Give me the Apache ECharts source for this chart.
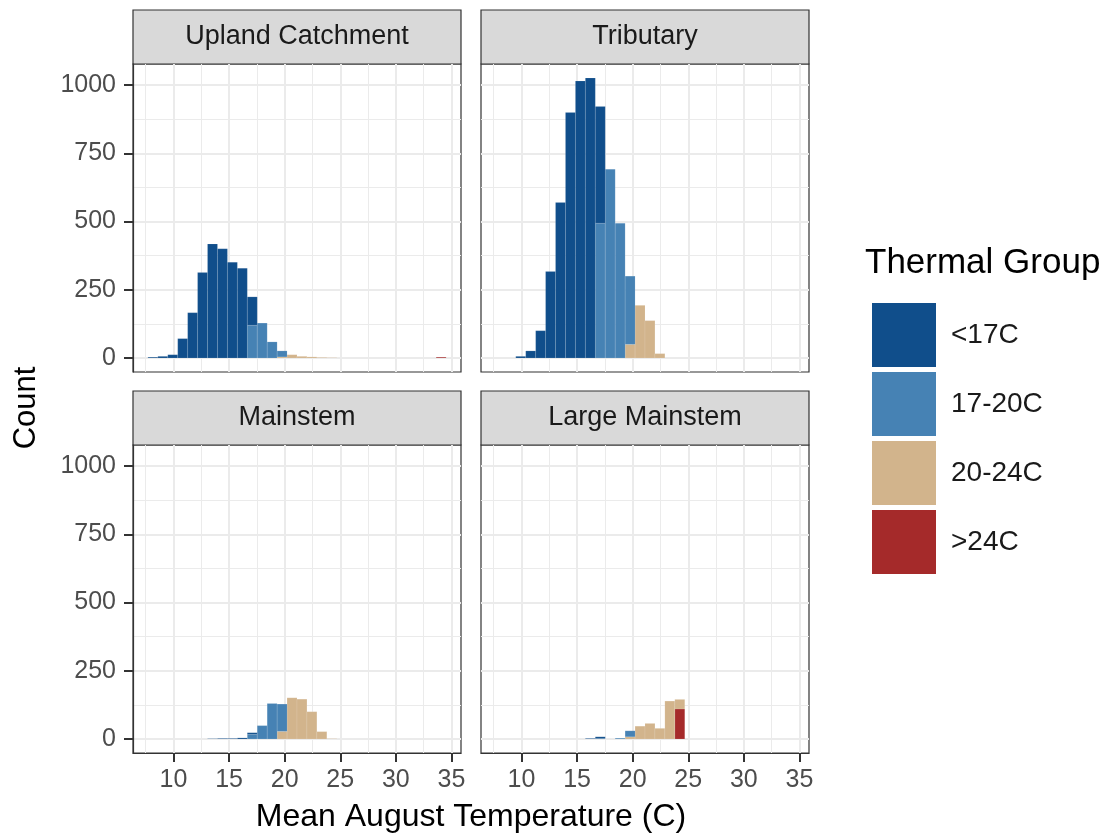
<!DOCTYPE html>
<html>
<head>
<meta charset="utf-8">
<script src="https://cdn.jsdelivr.net/npm/echarts@6/dist/echarts.min.js"></script>
<style>
html,body{margin:0;padding:0;background:#fff}
#chart{width:1110px;height:839px}
</style>
</head>
<body>
<div id="chart"></div>
<script>
// histogram bins (30 bins, shared by all facets)
var binStart = 7.7;
var binWidth = 0.894;

var groups = ['<17C', '17-20C', '20-24C', '>24C'];
var groupColors = ['#104E8B', '#4682B4', '#D2B48C', '#A52A2A'];
var facets = ['Upland Catchment', 'Tributary', 'Mainstem', 'Large Mainstem'];

var xTicks = [10, 15, 20, 25, 30, 35];
var xMinor = [7.5, 12.5, 17.5, 22.5, 27.5, 32.5];
var yTicks = [0, 250, 500, 750, 1000];
var yMinor = [125, 375, 625, 875];

// counts per bin
var uplandCold = [3,6,12,71,166,313,418,400,351,329,104,0,0,0,0,0,0,0,0,0,0,0,0,0,0,0,0,0,0,0];
var uplandCool = [0,0,0,0,0,0,0,0,0,0,120,128,59,22,0,0,0,0,0,0,0,0,0,0,0,0,0,0,0,0];
var uplandWarm = [0,0,0,0,0,0,0,0,0,0,0,0,0,4,12,6,4,2,1,0,0,0,0,0,0,0,0,0,0,0];
var uplandHot  = [0,0,0,0,0,0,0,0,0,0,0,0,0,0,0,0,0,0,0,0,0,0,0,0,0,0,0,0,0,3];

var tribCold = [0,0,6,26,100,317,570,900,1015,1026,428,0,0,0,0,0,0,0,0,0,0,0,0,0,0,0,0,0,0,0];
var tribCool = [0,0,0,0,0,0,0,0,0,0,494,692,494,250,0,0,0,0,0,0,0,0,0,0,0,0,0,0,0,0];
var tribWarm = [0,0,0,0,0,0,0,0,0,0,0,0,0,50,193,137,16,0,0,0,0,0,0,0,0,0,0,0,0,0];
var tribHot  = [0,0,0,0,0,0,0,0,0,0,0,0,0,0,0,0,0,0,0,0,0,0,0,0,0,0,0,0,0,0];

var mainCold = [0,0,0,0,0,0,1,2,2,4,6,0,0,0,0,0,0,0,0,0,0,0,0,0,0,0,0,0,0,0];
var mainCool = [0,0,0,0,0,0,0,0,0,0,17,49,130,100,0,0,0,0,0,0,0,0,0,0,0,0,0,0,0,0];
var mainWarm = [0,0,0,0,0,0,0,0,0,0,0,0,0,28,151,146,100,27,1,0,0,0,0,0,0,0,0,0,0,0];
var mainHot  = [0,0,0,0,0,0,0,0,0,0,0,0,0,0,0,0,0,0,0,0,0,0,0,0,0,0,0,0,0,0];

var largeCold = [0,0,0,0,0,0,0,0,0,2,6,0,0,0,0,0,0,0,0,0,0,0,0,0,0,0,0,0,0,0];
var largeCool = [0,0,0,0,0,0,0,0,0,0,2,0,3,22,0,0,0,0,0,0,0,0,0,0,0,0,0,0,0,0];
var largeWarm = [0,0,0,0,0,0,0,0,0,0,0,0,0,8,47,57,39,139,35,0,0,0,0,0,0,0,0,0,0,0];
var largeHot  = [0,0,0,0,0,0,0,0,0,0,0,0,0,0,0,0,0,0,110,0,0,0,0,0,0,0,0,0,0,0];

// per facet, in legend order (<17C ... >24C)
var facetCounts = [
	[uplandCold, uplandCool, uplandWarm, uplandHot],
	[tribCold, tribCool, tribWarm, tribHot],
	[mainCold, mainCool, mainWarm, mainHot],
	[largeCold, largeCool, largeWarm, largeHot]
];

var font = '"Liberation Sans", Arial, sans-serif';
var xMin = 6.36, xMax = 35.86;
var yMin = -51.3, yMax = 1077.3;

// panel boxes
var panels = [
	{left: 133, top: 64, width: 328, height: 308},
	{left: 481, top: 64, width: 328, height: 308},
	{left: 133, top: 445, width: 328, height: 308},
	{left: 481, top: 445, width: 328, height: 308}
];
var stripH = 54;

function renderBar(params, api) {
	var lo = api.coord([api.value(0), api.value(2)]);
	var hi = api.coord([api.value(1), api.value(3)]);
	return {
		type: 'rect',
		shape: {x: lo[0], y: hi[1], width: hi[0] - lo[0], height: lo[1] - hi[1]},
		style: {fill: api.visual('color'), stroke: 'rgba(255,255,255,0.18)', lineWidth: 0.6}
	};
}

function plainNum(v) {
	return String(v);
}

var grids = [], xAxes = [], yAxes = [], series = [], graphics = [];

panels.forEach(function(p, i) {
	var showX = i >= 2;
	var showY = i % 2 === 0;
	grids.push({
		left: p.left, top: p.top, width: p.width, height: p.height,
		show: true, backgroundColor: '#fff', borderColor: '#333333', borderWidth: 1.2
	});
	// major axes
	xAxes.push({
		type: 'value', gridIndex: i, min: xMin, max: xMax,
		axisLine: {show: showX, onZero: false, lineStyle: {color: '#333333', width: 1.2}},
		axisTick: {show: showX, customValues: xTicks, length: 9, lineStyle: {color: '#333333', width: 2}},
		axisLabel: {show: showX, customValues: xTicks, formatter: plainNum, margin: 15, fontSize: 25, color: '#4D4D4D', fontFamily: font},
		splitLine: {show: true, lineStyle: {color: '#EBEBEB', width: 2}}
	});
	// minor grid
	xAxes.push({
		type: 'value', gridIndex: i, min: xMin, max: xMax, position: 'bottom',
		axisLine: {show: false, onZero: false},
		axisTick: {show: false, customValues: xMinor},
		axisLabel: {show: false},
		splitLine: {show: true, lineStyle: {color: '#EBEBEB', width: 1}}
	});
	yAxes.push({
		type: 'value', gridIndex: i, min: yMin, max: yMax,
		axisLine: {show: showY, onZero: false, lineStyle: {color: '#333333', width: 1.2}},
		axisTick: {show: showY, customValues: yTicks, length: 9, lineStyle: {color: '#333333', width: 2}},
		axisLabel: {show: showY, customValues: yTicks, formatter: plainNum, margin: 17, fontSize: 25, color: '#4D4D4D', fontFamily: font},
		splitLine: {show: true, lineStyle: {color: '#EBEBEB', width: 2}}
	});
	yAxes.push({
		type: 'value', gridIndex: i, min: yMin, max: yMax, position: 'left',
		axisLine: {show: false, onZero: false},
		axisTick: {show: false, customValues: yMinor},
		axisLabel: {show: false},
		splitLine: {show: true, lineStyle: {color: '#EBEBEB', width: 1}}
	});

	// stacked histogram, >24C at the bottom
	var base = facetCounts[i][0].map(function() { return 0; });
	for (var g = groups.length - 1; g >= 0; g--) {
		var counts = facetCounts[i][g];
		var data = [];
		for (var k = 0; k < counts.length; k++) {
			if (counts[k] > 0) {
				var x0 = binStart + k * binWidth;
				data.push([x0, x0 + binWidth, base[k], base[k] + counts[k]]);
				base[k] += counts[k];
			}
		}
		series.push({
			name: groups[g],
			type: 'custom',
			xAxisIndex: i * 2,
			yAxisIndex: i * 2,
			itemStyle: {color: groupColors[g]},
			encode: {x: [0, 1], y: [2, 3]},
			renderItem: renderBar,
			data: data
		});
	}

	// facet strip
	graphics.push({
		type: 'rect',
		shape: {x: p.left, y: p.top - stripH, width: p.width, height: stripH},
		style: {fill: '#D9D9D9', stroke: '#333333', lineWidth: 1.2}
	});
	graphics.push({
		type: 'text',
		x: p.left + p.width / 2, y: p.top - stripH / 2,
		style: {text: facets[i], font: '27px ' + font, fill: '#1A1A1A', align: 'center', verticalAlign: 'middle'}
	});
});

graphics.push({
	type: 'text', x: 26, y: 408, rotation: Math.PI / 2,
	style: {text: 'Count', font: '31px ' + font, fill: '#000', align: 'center', verticalAlign: 'middle'}
});
graphics.push({
	type: 'text', x: 471, y: 817,
	style: {text: 'Mean August Temperature (C)', font: '32px ' + font, fill: '#000', align: 'center', verticalAlign: 'middle'}
});
graphics.push({
	type: 'text', x: 865, y: 263,
	style: {text: 'Thermal Group', font: '35px ' + font, fill: '#000', align: 'left', verticalAlign: 'middle'}
});

var myChart = echarts.init(document.getElementById('chart'));
var option = {
	backgroundColor: '#fff',
	animation: false,
	grid: grids,
	xAxis: xAxes,
	yAxis: yAxes,
	legend: {
		data: groups,
		orient: 'vertical',
		left: 867,
		top: 298,
		icon: 'rect',
		itemWidth: 64,
		itemHeight: 64,
		itemGap: 5,
		selectedMode: false,
		textStyle: {fontSize: 28, color: '#1A1A1A', fontFamily: font, padding: [0, 0, 0, 10]}
	},
	series: series,
	graphic: graphics
};
myChart.setOption(option);
</script>
</body>
</html>
